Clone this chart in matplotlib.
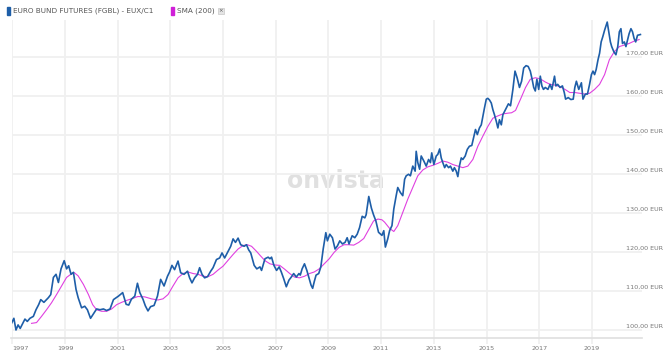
import numpy as np
import matplotlib.pyplot as plt
from matplotlib.patches import Rectangle
from matplotlib.transforms import blended_transform_factory

# Euro Bund futures (decimal year, price)
bund_years = [1996.97, 1997.06, 1997.14, 1997.22, 1997.30, 1997.48, 1997.57, 1997.67, 1997.80,
              1997.90, 1998.00, 1998.08, 1998.20, 1998.37, 1998.46, 1998.56, 1998.66, 1998.75,
              1998.85, 1998.97, 1999.06, 1999.14, 1999.23, 1999.32, 1999.42, 1999.50, 1999.63,
              1999.75, 1999.85, 1999.97, 2000.14, 2000.20, 2000.33, 2000.46, 2000.58, 2000.71,
              2000.84, 2001.03, 2001.19, 2001.32, 2001.42, 2001.52, 2001.65, 2001.75, 2001.84,
              2001.96, 2002.05, 2002.15, 2002.25, 2002.38, 2002.51, 2002.63, 2002.76, 2002.89,
              2002.97, 2003.06, 2003.16, 2003.29, 2003.39, 2003.52, 2003.65, 2003.73, 2003.82,
              2003.92, 2004.03, 2004.11, 2004.20, 2004.30, 2004.41, 2004.53, 2004.62, 2004.75,
              2004.87, 2004.96, 2005.06, 2005.19, 2005.29, 2005.38, 2005.47, 2005.57, 2005.67,
              2005.80, 2005.89, 2005.97, 2006.05, 2006.18, 2006.28, 2006.40, 2006.46, 2006.59,
              2006.71, 2006.78, 2006.84, 2006.93, 2007.03, 2007.13, 2007.21, 2007.30, 2007.40,
              2007.50, 2007.59, 2007.68, 2007.78, 2007.88, 2007.93, 2008.00, 2008.09, 2008.18,
              2008.25, 2008.34, 2008.40, 2008.46, 2008.53, 2008.63, 2008.71, 2008.80, 2008.90,
              2008.96, 2009.05, 2009.15, 2009.25, 2009.34, 2009.43, 2009.53, 2009.63, 2009.71,
              2009.78, 2009.90, 2010.00, 2010.09, 2010.18, 2010.28, 2010.38, 2010.43, 2010.53,
              2010.63, 2010.71, 2010.80, 2010.90, 2011.03, 2011.10, 2011.16, 2011.25, 2011.32,
              2011.41, 2011.48, 2011.57, 2011.63, 2011.73, 2011.82, 2011.89, 2011.95, 2012.04,
              2012.11, 2012.20, 2012.29, 2012.33, 2012.39, 2012.46, 2012.52, 2012.62, 2012.71,
              2012.80, 2012.87, 2012.92, 2013.00, 2013.09, 2013.15, 2013.22, 2013.28, 2013.34,
              2013.41, 2013.47, 2013.56, 2013.63, 2013.72, 2013.78, 2013.85, 2013.91, 2013.97,
              2014.04, 2014.10, 2014.19, 2014.27, 2014.35, 2014.44, 2014.52, 2014.58, 2014.65,
              2014.73, 2014.80, 2014.86, 2014.92, 2014.99, 2015.05, 2015.11, 2015.18, 2015.24,
              2015.30, 2015.37, 2015.43, 2015.49, 2015.56, 2015.62, 2015.68, 2015.75, 2015.83,
              2015.91, 2016.00, 2016.08, 2016.16, 2016.25, 2016.33, 2016.41, 2016.50, 2016.58,
              2016.66, 2016.73, 2016.79, 2016.85, 2016.91, 2016.98, 2017.04, 2017.10, 2017.16,
              2017.23, 2017.33, 2017.41, 2017.48, 2017.58, 2017.63, 2017.70, 2017.79, 2017.88,
              2017.95, 2018.00, 2018.10, 2018.20, 2018.29, 2018.35, 2018.41, 2018.50, 2018.60,
              2018.66, 2018.75, 2018.83, 2018.91, 2018.98, 2019.04, 2019.10, 2019.16, 2019.23,
              2019.29, 2019.35, 2019.41, 2019.48, 2019.58, 2019.63, 2019.70, 2019.75, 2019.83,
              2019.91, 2019.98, 2020.04, 2020.10, 2020.16, 2020.23, 2020.29, 2020.35, 2020.41,
              2020.48, 2020.54, 2020.60, 2020.66, 2020.73, 2020.84]
bund_values = [101.7, 103.0, 100.0, 101.3, 100.4, 102.8, 102.2, 103.0, 103.5,
               105.2, 106.5, 107.8, 107.1, 108.3, 109.1, 113.5, 114.3, 112.2,
               115.7, 117.8, 115.7, 116.5, 114.3, 114.8, 110.4, 108.3, 105.7,
               106.1, 105.2, 103.0, 104.8, 105.4, 105.2, 105.4, 105.0, 105.4,
               107.8, 108.7, 109.6, 106.6, 106.4, 107.9, 108.7, 112.0, 109.6,
               107.9, 106.2, 104.9, 106.0, 106.3, 108.7, 113.0, 111.3, 113.8,
               114.9, 116.6, 115.5, 117.7, 114.7, 114.3, 115.1, 113.4, 112.1,
               113.4, 114.3, 116.0, 114.3, 113.4, 113.7, 115.1, 116.0, 118.1,
               118.5, 119.8, 118.5, 120.2, 121.5, 123.4, 122.5, 123.6, 121.9,
               121.5, 121.9, 120.6, 119.8, 116.6, 115.7, 116.2, 115.3, 118.3,
               118.7, 118.3, 118.7, 116.6, 115.3, 116.2, 114.9, 113.2, 111.1,
               112.8, 113.6, 114.5, 113.6, 114.5, 114.1, 115.7, 117.0, 115.3,
               113.6, 111.5, 110.7, 112.4, 114.1, 114.5, 116.2, 120.8, 125.0,
               122.9, 124.6, 123.7, 120.8, 121.6, 122.9, 122.1, 122.5, 123.7,
               122.1, 124.2, 123.7, 124.6, 126.3, 129.2, 128.8, 129.6, 134.3,
               131.3, 129.6, 128.0, 125.1, 124.3, 125.5, 121.3, 123.4, 125.5,
               126.8, 131.1, 134.5, 136.6, 135.3, 134.5, 138.7, 139.6, 140.0,
               139.6, 142.1, 140.8, 145.9, 143.0, 141.3, 144.7, 143.4, 142.1,
               143.8, 143.0, 145.5, 142.5, 144.7, 145.1, 146.5, 144.2, 143.0,
               141.7, 142.5, 141.7, 142.1, 140.8, 141.7, 140.8, 139.4, 142.1,
               144.2, 143.8, 144.7, 146.4, 147.2, 147.4, 149.8, 151.5, 150.2,
               151.9, 152.7, 154.9, 157.0, 159.3, 159.5, 159.1, 158.3, 156.6,
               155.3, 153.6, 151.9, 154.0, 152.7, 155.3, 156.1, 157.0, 158.1,
               157.6, 161.8, 166.5, 164.8, 162.3, 163.9, 167.3, 167.9, 167.7,
               166.5, 164.4, 162.3, 161.4, 164.4, 161.8, 165.2, 162.7, 161.8,
               162.3, 161.8, 163.1, 161.8, 165.2, 162.7, 163.1, 162.3, 162.7,
               161.0, 159.3, 159.7, 159.2, 159.3, 162.3, 163.9, 161.8, 163.5,
               159.3, 160.6, 160.6, 163.1, 165.6, 166.5, 165.6, 166.9, 169.4,
               171.1, 174.0, 175.3, 177.0, 179.1, 177.0, 174.0, 172.8, 171.5,
               170.7, 172.8, 176.6, 177.4, 173.6, 174.0, 172.8, 174.5, 176.1,
               177.4, 176.6, 174.9, 174.0, 175.7, 175.9]

# SMA (200)
sma_years = [1997.73, 1997.92, 1998.11, 1998.30, 1998.49, 1998.68, 1998.87, 1999.06, 1999.22,
             1999.34, 1999.50, 1999.70, 1999.89, 2000.05, 2000.20, 2000.39, 2000.58, 2000.77,
             2000.96, 2001.15, 2001.34, 2001.52, 2001.77, 2002.03, 2002.28, 2002.53, 2002.72,
             2002.91, 2003.10, 2003.29, 2003.48, 2003.67, 2003.86, 2004.05, 2004.24, 2004.43,
             2004.62, 2004.81, 2005.00, 2005.19, 2005.38, 2005.57, 2005.76, 2005.92, 2006.08,
             2006.27, 2006.40, 2006.59, 2006.78, 2006.96, 2007.15, 2007.34, 2007.53, 2007.71,
             2007.90, 2008.09, 2008.28, 2008.46, 2008.65, 2008.84, 2009.03, 2009.21, 2009.40,
             2009.59, 2009.78, 2009.96, 2010.15, 2010.34, 2010.53, 2010.71, 2010.88, 2011.03,
             2011.13, 2011.32, 2011.48, 2011.63, 2011.82, 2012.01, 2012.20, 2012.39, 2012.58,
             2012.77, 2012.96, 2013.15, 2013.34, 2013.53, 2013.72, 2013.91, 2014.10, 2014.29,
             2014.48, 2014.67, 2014.86, 2015.05, 2015.24, 2015.43, 2015.62, 2015.81, 2015.95,
             2016.10, 2016.29, 2016.48, 2016.66, 2016.85, 2017.04, 2017.23, 2017.41, 2017.60,
             2017.79, 2017.98, 2018.16, 2018.35, 2018.54, 2018.73, 2018.91, 2019.10, 2019.29,
             2019.48, 2019.66, 2019.85, 2020.04, 2020.23, 2020.41, 2020.60, 2020.79]
sma_values = [101.7, 101.9, 103.5, 105.2, 107.0, 109.1, 111.3, 113.5, 114.3,
              114.8, 113.9, 111.7, 109.1, 106.5, 105.2, 104.8, 104.8, 105.4,
              106.5, 107.1, 107.6, 108.0, 108.6, 108.5, 108.0, 107.7, 108.0,
              109.1, 111.3, 113.4, 114.5, 114.9, 114.5, 114.3, 113.8, 113.7,
              114.3, 115.4, 116.4, 117.9, 119.4, 120.8, 121.7, 121.9, 121.5,
              120.2, 119.2, 117.8, 117.0, 116.7, 116.6, 115.6, 114.5, 113.6,
              113.4, 113.8, 114.5, 114.9, 115.7, 117.0, 118.3, 119.9, 121.2,
              121.9, 121.9, 121.8, 122.5, 123.5, 125.8, 128.0, 128.5, 128.3,
              127.7, 126.1, 125.3, 126.8, 130.2, 133.6, 136.6, 139.6, 141.1,
              141.9, 142.3, 142.8, 143.4, 143.1, 142.5, 142.1, 141.7, 142.1,
              143.8, 147.2, 149.8, 152.3, 154.4, 155.0, 155.5, 155.7, 155.8,
              156.4, 159.3, 162.3, 164.4, 164.8, 164.5, 163.7, 163.1, 162.9,
              162.5, 161.8, 161.0, 161.0, 160.8, 160.6, 160.8, 161.8, 163.1,
              165.6, 169.4, 171.5, 172.8, 173.2, 173.6, 174.2, 174.6]

year_ticks = [1997, 1999, 2001, 2003, 2005, 2007, 2009, 2011, 2013, 2015, 2017, 2019]
price_ticks = [100, 110, 120, 130, 140, 150, 160, 170]
price_labels = ['100,00 EUR', '110,00 EUR', '120,00 EUR', '130,00 EUR',
                '140,00 EUR', '150,00 EUR', '160,00 EUR', '170,00 EUR']

W, H = 671, 358
fig = plt.figure(figsize=(W / 100, H / 100), dpi=100)
ax = fig.add_axes([11.5 / W, 1 - 338 / H, (642 - 11.5) / W, (338 - 20) / H])

grid_col = '#f0f0f0'
ax.set_xlim(1996.97, 2020.9)
ax.set_ylim(97.94, 179.63)
ax.set_xticks(year_ticks)
ax.set_xticklabels([str(y) for y in year_ticks])
ax.set_yticks(price_ticks)
ax.tick_params(axis='y', left=False, labelleft=False)
ax.tick_params(axis='x', length=4, width=1.3, color=grid_col, pad=2,
               labelsize=4.6, labelcolor='#777777')
ax.get_xticklabels()[0].set_ha('left')
ax.grid(True, color=grid_col, linewidth=1.3)
ax.set_axisbelow(True)
for s in ['top', 'left', 'right']:
    ax.spines[s].set_visible(False)
ax.spines['bottom'].set_color('#dfdfdf')
ax.spines['bottom'].set_linewidth(1.2)

# watermark
ax.text(0.515, 0.495, 'onvista', transform=ax.transAxes, ha='center', va='center',
        fontsize=17, fontweight='bold', color='#e0e0e0', zorder=0)

ax.plot(sma_years, sma_values, color='#e040e0', linewidth=0.8, zorder=2)
ax.plot(bund_years, bund_values, color='#1e5ea8', linewidth=1.2, zorder=3)

# price labels sitting on the right end of the grid lines
trans = blended_transform_factory(ax.transAxes, ax.transData)
for v, lab in zip(price_ticks, price_labels):
    ax.annotate(lab, xy=(1 + 21 / 630.5, v), xycoords=trans, xytext=(0, 1),
                textcoords='offset points', ha='right', va='bottom',
                fontsize=4.6, color='#777777', annotation_clip=False)

# legend header
fig.patches.append(Rectangle((7 / W, 1 - 15 / H), 3 / W, 8 / H, transform=fig.transFigure,
                             color='#1e5ea8'))
fig.text(13 / W, 1 - 11 / H, 'EURO BUND FUTURES (FGBL) - EUX/C1', fontsize=5.2,
         color='#555555', va='center')
fig.patches.append(Rectangle((171 / W, 1 - 15 / H), 3 / W, 8 / H, transform=fig.transFigure,
                             color='#d020d8'))
fig.text(177 / W, 1 - 11 / H, 'SMA (200)', fontsize=5.2, color='#555555', va='center')
fig.patches.append(Rectangle((218 / W, 1 - 14 / H), 6 / W, 6 / H, transform=fig.transFigure,
                             facecolor='#e4e4e4', edgecolor='#c8c8c8', linewidth=0.5))
fig.text(221 / W, 1 - 11 / H, '×', fontsize=4, color='#555555', ha='center', va='center')

fig.savefig('out.png', dpi=100)
